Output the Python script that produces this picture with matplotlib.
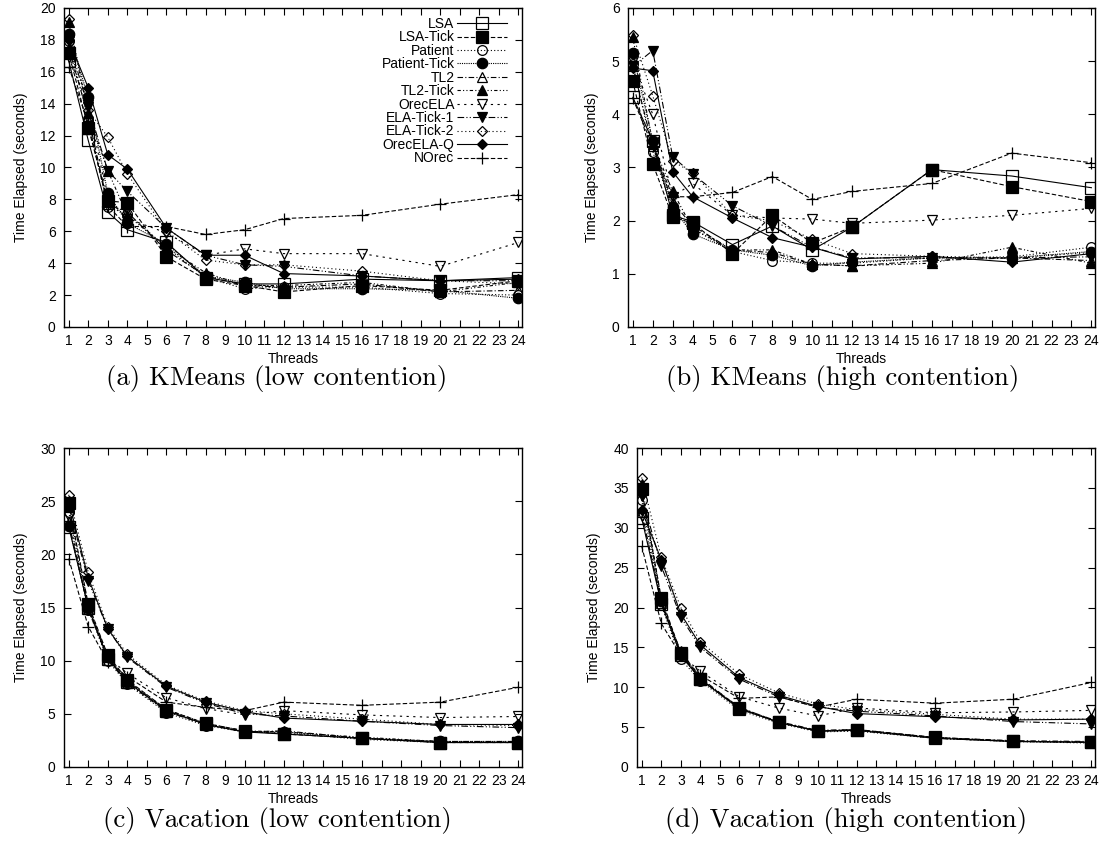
import matplotlib
matplotlib.use("Agg")
import matplotlib.pyplot as plt

threads = [1, 2, 3, 4, 6, 8, 10, 12, 16, 20, 24]
series = ["LSA", "LSA-Tick", "Patient", "Patient-Tick", "TL2", "TL2-Tick",
          "OrecELA", "ELA-Tick-1", "ELA-Tick-2", "OrecELA-Q", "NOrec"]

# rows follow the order of `series`
kmeans_low = [
    [16.7, 11.7, 7.2, 6.1, 5.3, 3.1, 2.7, 2.7, 3.0, 2.9, 3.1],
    [17.2, 12.5, 7.9, 7.8, 4.4, 3.0, 2.6, 2.2, 2.6, 2.3, 2.9],
    [17.9, 13.0, 7.5, 7.1, 5.0, 3.1, 2.4, 2.5, 2.5, 2.1, 2.0],
    [18.4, 14.4, 8.4, 6.5, 5.2, 3.2, 2.8, 2.4, 2.4, 2.3, 1.8],
    [17.5, 13.2, 7.7, 7.2, 4.8, 3.2, 2.6, 2.5, 2.7, 2.2, 2.3],
    [19.1, 13.4, 9.8, 7.0, 5.0, 3.4, 2.6, 2.6, 2.8, 2.2, 2.8],
    [16.9, 13.9, 8.0, 6.8, 5.9, 4.5, 4.9, 4.6, 4.6, 3.8, 5.3],
    [17.9, 13.8, 9.8, 8.5, 6.2, 4.5, 3.9, 3.8, 3.2, 2.9, 2.9],
    [19.3, 13.6, 11.9, 9.6, 6.0, 4.2, 3.9, 3.9, 3.5, 2.9, 2.7],
    [18.0, 15.0, 10.8, 9.9, 6.2, 4.5, 4.5, 3.35, 3.2, 2.9, 3.0],
    [16.3, 12.8, 7.6, 6.3, 6.3, 5.8, 6.1, 6.8, 7.0, 7.7, 8.3],
]

kmeans_high = [
    [4.32, 3.5, 2.1, 1.98, 1.55, 1.9, 1.45, 1.88, 2.96, 2.84, 2.62],
    [4.62, 3.07, 2.07, 1.95, 1.38, 2.1, 1.58, 1.88, 2.96, 2.64, 2.36],
    [4.95, 3.3, 2.2, 1.85, 1.42, 1.25, 1.2, 1.2, 1.3, 1.32, 1.5],
    [5.15, 3.5, 2.25, 1.75, 1.45, 1.35, 1.15, 1.22, 1.3, 1.3, 1.42],
    [4.9, 3.4, 2.35, 1.9, 1.45, 1.4, 1.18, 1.15, 1.25, 1.3, 1.25],
    [5.45, 3.45, 2.55, 1.85, 1.45, 1.45, 1.18, 1.15, 1.2, 1.5, 1.2],
    [5.0, 4.0, 2.45, 2.7, 2.1, 2.05, 2.03, 1.95, 2.01, 2.1, 2.23],
    [4.9, 5.2, 3.2, 2.88, 2.28, 1.9, 1.5, 1.3, 1.3, 1.3, 1.32],
    [5.5, 4.35, 3.12, 2.9, 2.1, 2.0, 1.65, 1.38, 1.33, 1.3, 1.4],
    [4.87, 4.82, 2.92, 2.45, 2.05, 1.68, 1.5, 1.28, 1.33, 1.22, 1.38],
    [4.3, 3.4, 2.45, 2.45, 2.53, 2.83, 2.4, 2.55, 2.7, 3.27, 3.09],
]

vacation_low = [
    [22.6, 15.0, 10.2, 8.0, 5.3, 4.0, 3.3, 3.1, 2.7, 2.3, 2.3],
    [24.8, 15.3, 10.5, 8.2, 5.4, 4.1, 3.4, 3.1, 2.7, 2.3, 2.3],
    [24.0, 14.8, 10.0, 7.8, 5.1, 3.9, 3.3, 3.2, 2.6, 2.3, 2.3],
    [22.7, 15.0, 10.3, 8.0, 5.3, 4.0, 3.3, 3.3, 2.7, 2.4, 2.4],
    [23.0, 14.9, 10.1, 7.9, 5.2, 4.0, 3.3, 3.4, 2.7, 2.4, 2.4],
    [24.5, 15.2, 10.4, 8.1, 5.4, 4.1, 3.4, 3.3, 2.8, 2.4, 2.3],
    [23.5, 14.8, 10.3, 8.8, 6.5, 5.5, 4.9, 5.3, 4.9, 4.65, 4.75],
    [24.6, 17.5, 13.0, 10.3, 7.5, 6.0, 5.0, 4.8, 4.3, 3.9, 3.7],
    [25.6, 18.3, 13.2, 10.6, 7.7, 6.2, 5.3, 5.0, 4.5, 4.0, 3.9],
    [25.0, 17.8, 13.0, 10.4, 7.6, 6.1, 5.2, 4.6, 4.3, 4.0, 4.0],
    [19.6, 13.2, 9.9, 8.5, 6.1, 5.6, 5.3, 6.1, 5.8, 6.1, 7.5],
]

vacation_high = [
    [31.2, 20.5, 14.0, 11.0, 7.3, 5.6, 4.5, 4.6, 3.6, 3.2, 3.1],
    [34.8, 21.2, 14.3, 11.0, 7.4, 5.6, 4.5, 4.7, 3.7, 3.25, 3.1],
    [33.5, 20.3, 13.5, 10.8, 7.1, 5.5, 4.4, 4.5, 3.6, 3.2, 3.0],
    [34.5, 20.8, 14.0, 11.0, 7.3, 5.6, 4.5, 4.6, 3.7, 3.2, 3.1],
    [32.0, 20.6, 14.5, 11.2, 7.4, 5.7, 4.6, 4.7, 3.7, 3.3, 3.2],
    [35.5, 21.0, 14.2, 11.0, 7.5, 5.6, 4.5, 4.6, 3.6, 3.2, 3.1],
    [31.5, 20.8, 14.0, 12.0, 8.8, 7.4, 6.4, 7.4, 6.8, 6.9, 7.1],
    [34.0, 25.2, 18.8, 15.0, 11.0, 8.8, 7.5, 7.0, 6.4, 5.7, 5.4],
    [36.3, 26.3, 20.0, 15.7, 11.6, 9.3, 7.9, 7.2, 6.6, 6.0, 6.0],
    [32.2, 26.0, 19.2, 15.3, 11.2, 9.0, 7.6, 6.7, 6.3, 5.9, 6.0],
    [27.7, 18.0, 14.0, 11.5, 8.6, 8.8, 7.5, 8.5, 8.0, 8.5, 10.6],
]

panels = [
    ("(a) KMeans (low contention)", kmeans_low, 20, 2),
    ("(b) KMeans (high contention)", kmeans_high, 6, 1),
    ("(c) Vacation (low contention)", vacation_low, 30, 5),
    ("(d) Vacation (high contention)", vacation_high, 40, 5),
]

markers = ["s", "s", "o", "o", "^", "^", "v", "v", "D", "D", "+"]
filled = [False, True, False, True, False, True, False, True, False, True, False]
msizes = [8, 8, 7, 7.5, 7, 7, 7.5, 7.5, 5.5, 5.5, 9]
dashes = [
    None,                     # solid
    (4, 2),                   # dashed
    (1, 2),                   # dotted
    (1, 1),                   # dense dots
    (5, 2, 1, 2),             # dash-dot
    (3, 2, 1, 2, 1, 2),       # dash-dot-dot
    (2, 4),                   # sparse short dashes
    (6, 2, 1, 2, 1, 2),       # long dash dot dot
    (1, 2.5),                 # dotted
    None,                     # solid
    (4, 2),                   # dashed
]

plt.rcParams["font.family"] = ["Liberation Sans", "DejaVu Sans"]
fig = plt.figure(figsize=(11.05, 8.61), dpi=100)

rects = [
    [64 / 1105, 1 - 327 / 861, (522 - 64) / 1105, 319 / 861],
    [628 / 1105, 1 - 327 / 861, (1095 - 628) / 1105, 319 / 861],
    [64 / 1105, 1 - 767 / 861, (522 - 64) / 1105, 319 / 861],
    [637 / 1105, 1 - 767 / 861, (1095 - 637) / 1105, 319 / 861],
]
cap_pos = [(277, 379), (843, 379), (277, 821), (846, 821)]

for i, (title, data, ymax, ystep) in enumerate(panels):
    ax = fig.add_axes(rects[i])
    for k, name in enumerate(series):
        kw = dict(color="black", lw=0.8, marker=markers[k], ms=msizes[k],
                  mec="black", mew=0.9,
                  mfc="black" if filled[k] else "none", label=name)
        line, = ax.plot(threads, data[k], **kw)
        if dashes[k] is not None:
            line.set_dashes(dashes[k])
    ax.set_xlim(0.76, 24.18)
    ax.set_ylim(0, ymax)
    ax.set_xticks(range(1, 25))
    ax.set_yticks(range(0, ymax + 1, ystep))
    ax.tick_params(direction="in", top=True, right=True, length=5,
                   width=0.8, labelsize=10, colors="black")
    ax.tick_params(axis="y", pad=6)
    ax.tick_params(axis="x", pad=5)
    for s in ax.spines.values():
        s.set_linewidth(1.0)
    ax.set_xlabel("Threads", fontsize=10, labelpad=3)
    ax.set_ylabel("Time Elapsed (seconds)", fontsize=10, labelpad=9)
    if i == 0:
        ax.legend(loc="upper right", bbox_to_anchor=(0.968, 0.972),
                  frameon=False, markerfirst=False, fontsize=10,
                  handlelength=3.6, handletextpad=0.2, labelspacing=-0.04,
                  borderaxespad=0, borderpad=0)
    fig.text(cap_pos[i][0] / 1105, 1 - cap_pos[i][1] / 861, title,
             ha="center", va="center", fontsize=19.3, family="cmr10")

fig.savefig("out.png", dpi=100)
